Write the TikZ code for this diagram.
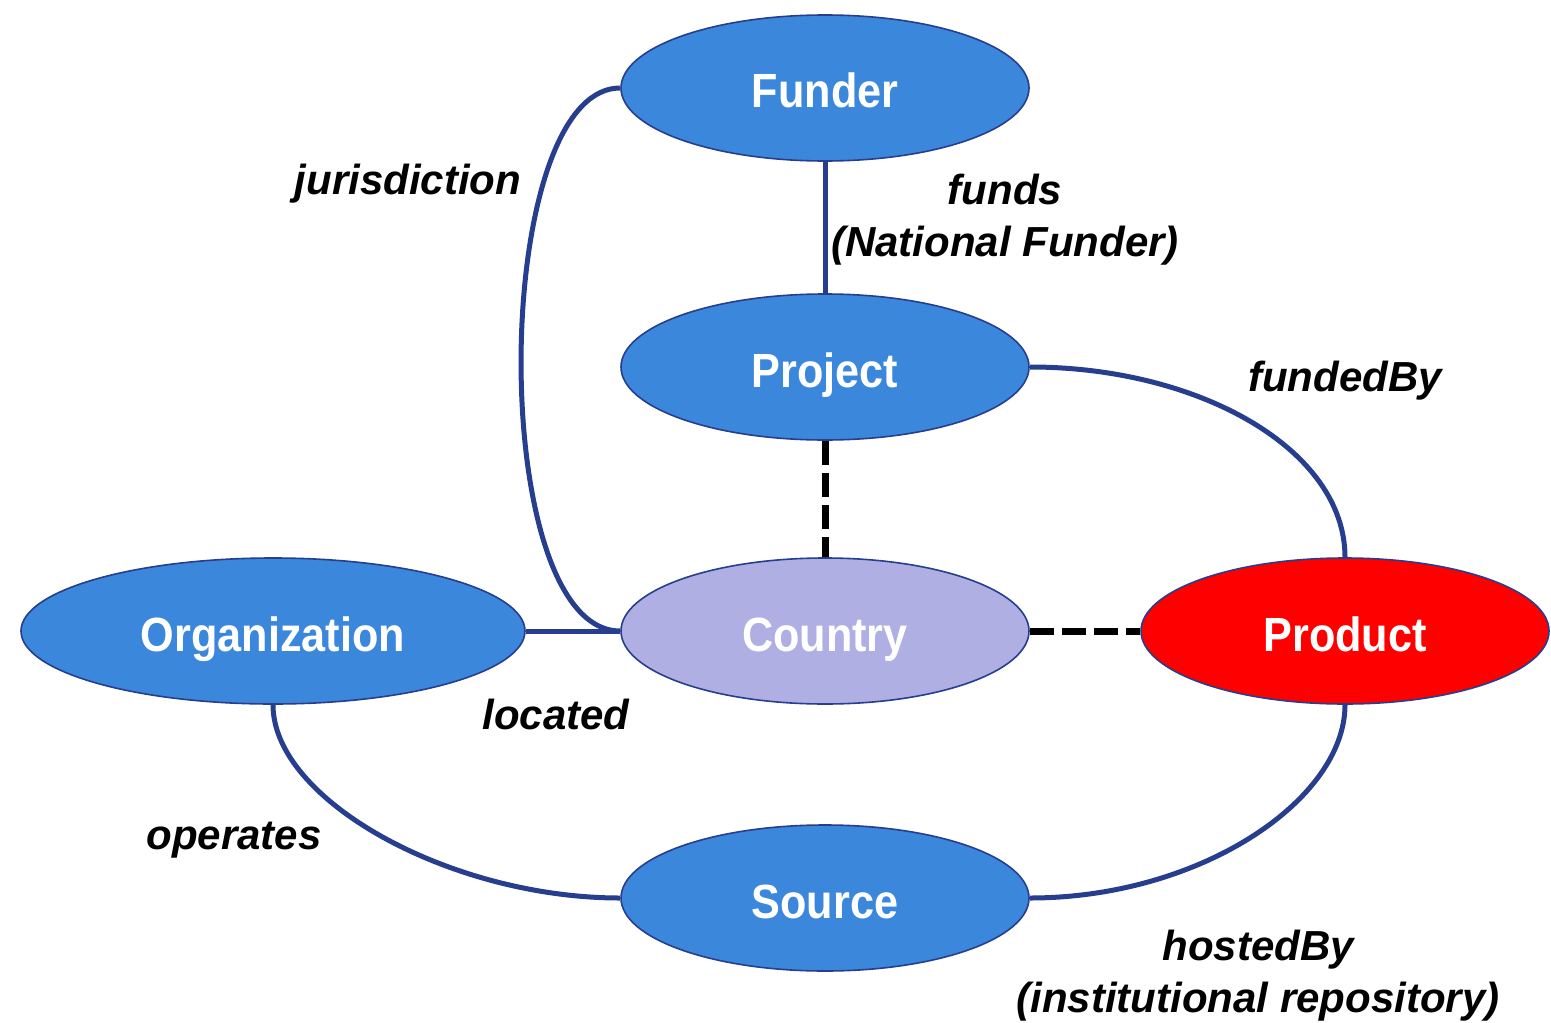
\documentclass[tikz,border=0pt]{standalone}
\usepackage{fontspec}
\setmainfont{Liberation Sans}
\newfontfamily\condfont[FakeStretch=0.9]{Liberation Sans}
\usetikzlibrary{shapes.geometric}
\definecolor{nodeblue}{HTML}{3A87DC}
\definecolor{edgeblue}{HTML}{273E8E}
\definecolor{countryfill}{HTML}{AFAFE3}
\definecolor{prodred}{HTML}{FF0000}
\tikzset{
  ent/.style={ellipse, draw=edgeblue, line width=0.8pt, fill=nodeblue, minimum width=204pt, minimum height=73pt, inner sep=0pt,
    text=white, font=\condfont\fontsize{24}{28}\selectfont\bfseries, text height=20pt, text depth=0pt},
  rel/.style={draw=edgeblue, line width=2.5pt},
  dashline/.style={draw=black, line width=3.5pt, dash pattern=on 12pt off 4pt},
  lbl/.style={font=\fontsize{21}{26}\selectfont\bfseries\itshape, align=center, inner sep=0pt}
}
\begin{document}
\begin{tikzpicture}[x=0.5pt,y=-0.5pt]
\useasboundingbox (0,0) rectangle (1551,1022);
\node[ent] (funder) at (825,88) {Funder};
\node[ent] (project) at (825,367) {Project};
\node[ent, fill=countryfill] (country) at (825,631) {Country};
\node[ent, minimum width=252pt] (org) at (273,631) {Organization};
\node[ent, fill=prodred] (product) at (1345,631) {Product};
\node[ent] (source) at (825,898) {Source};
\draw[rel] (funder.south) -- (project.north);
\draw[rel] (funder.west) .. controls (490,88) and (486,631) .. (country.west);
\draw[rel] (project.east) .. controls (1200,367) and (1345,450) .. (product.north);
\draw[rel] (org.east) -- (country.west);
\draw[rel] (org.south) .. controls (273,800) and (450,898) .. (source.west);
\draw[rel] (product.south) .. controls (1345,800) and (1200,898) .. (source.east);
\draw[dashline] (project.south) -- (country.north);
\draw[dashline] (country.east) -- (product.west);
\node[lbl] (ljur) at (408,184) {jurisdiction};
\node[lbl] (lfunds) at (1005,220) {funds\\(National Funder)};
\node[lbl] (lfb) at (1345,381) {fundedBy};
\node[lbl] (lloc) at (556,714) {located};
\node[lbl] (lop) at (234,840) {operates};
\node[lbl] (lhost) at (1258,976) {hostedBy\\(institutional repository)};
\end{tikzpicture}
\end{document}
